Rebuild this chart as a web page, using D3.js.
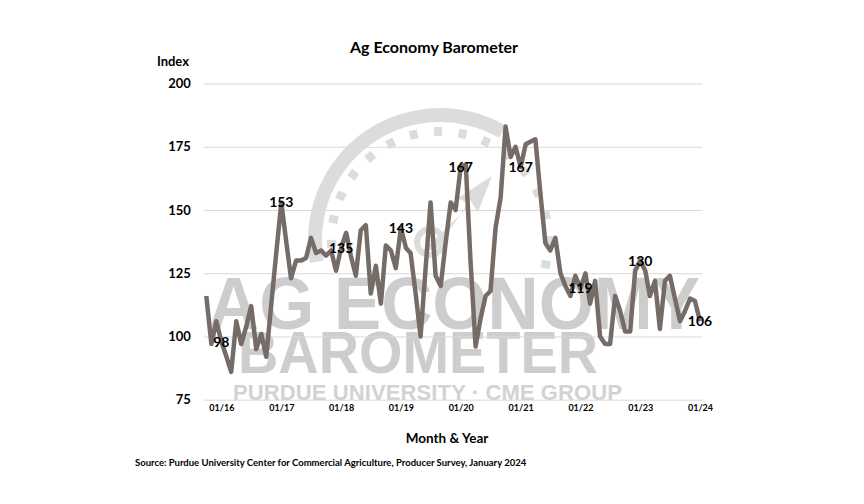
<!DOCTYPE html>
<html><head><meta charset="utf-8">
<script src="https://cdn.jsdelivr.net/npm/d3@7"></script>
<style>body{margin:0;background:#fff}svg{display:block}</style>
</head><body>
<svg id="c" width="864" height="504"></svg>
<script>
// ---- data ----
const startMonth = "2015-10"; // first observation (Oct 2015), monthly through Jan 2024
const values = [
  116, 97, 106,
  98, 92, 86, 106, 97, 104, 112, 95, 101, 92, 113, 133,
  153, 137, 123, 130, 130, 131, 139, 133, 134, 132, 134, 126,
  135, 141, 132, 124, 142, 144, 117, 128, 113, 136, 134, 127,
  143, 135, 133, 117, 100, 127, 153, 124, 120, 137, 153, 150,
  167, 168, 130, 96, 107, 116, 118, 143, 155, 183, 171, 175,
  167, 176, 177, 178, 157, 137, 134, 139, 125, 120, 116, 124,
  119, 125, 113, 122, 100, 97, 97, 116, 110, 102, 102, 126,
  130, 126, 116, 122, 103, 122, 124, 115, 106, 110, 115, 114,
  106
];
const yTicks = [75, 100, 125, 150, 175, 200];
const xTickYears = [2016, 2017, 2018, 2019, 2020, 2021, 2022, 2023, 2024];
const xTickLabels = ["01/16","01/17","01/18","01/19","01/20","01/21","01/22","01/23","01/24"];
const labelYears = [2016, 2017, 2018, 2019, 2020, 2021, 2022, 2023, 2024]; // January data labels

const [sy, sm] = startMonth.split("-").map(Number);
const data = values.map((v, i) => ({date: new Date(sy, sm - 1 + i, 1), value: v}));

const svg = d3.select("#c");
const x = d3.scaleTime()
  .domain([data[0].date, data[data.length - 1].date])
  .range([206.3, 700]);
const y = d3.scaleLinear().domain([75, 200]).range([399.7, 83.6]);

const gx0 = x(new Date(2015, 8, 16)), gx1 = x(new Date(2024, 0, 16));
const font = "Lato, 'Open Sans', sans-serif";

// ---- watermark (gauge + text) ----
const wm = svg.append("g");
const gc = [440, 240];
const arc = d3.arc();
wm.append("path")
  .attr("transform", `translate(${gc})`)
  .attr("d", arc({innerRadius: 118, outerRadius: 132, startAngle: -100 * Math.PI / 180, endAngle: 30 * Math.PI / 180}))
  .attr("fill", "#dcdcdc");
for (let a = -92; a <= 112; a += 13) {
  const r = a * Math.PI / 180;
  wm.append("rect")
    .attr("x", -4).attr("y", -113).attr("width", 8).attr("height", 9)
    .attr("transform", `translate(${gc}) rotate(${a})`)
    .attr("fill", "#dcdcdc");
}
wm.append("circle").attr("cx", 430).attr("cy", 242).attr("r", 13)
  .attr("fill", "none").attr("stroke", "#dcdcdc").attr("stroke-width", 6);
wm.append("path").attr("d", "M424,250 L470,205 L458,198 L492,176 L478,212 L470,200 L436,250 Z")
  .attr("fill", "#dcdcdc");

wm.append("text").text("AG ECONOMY")
  .attr("x", 208).attr("y", 329).attr("textLength", 492).attr("lengthAdjust", "spacingAndGlyphs")
  .attr("font-family", "'Liberation Sans', Arial, sans-serif").attr("font-weight", "bold")
  .attr("font-size", 74).attr("fill", "#cdcdcd");
wm.append("text").text("BAROMETER")
  .attr("x", 238).attr("y", 373).attr("textLength", 360).attr("lengthAdjust", "spacingAndGlyphs")
  .attr("font-family", "'Liberation Sans', Arial, sans-serif").attr("font-weight", "bold")
  .attr("font-size", 60).attr("fill", "#cdcdcd");
wm.append("text").text("PURDUE UNIVERSITY  ·  CME GROUP")
  .attr("x", 233).attr("y", 400).attr("textLength", 389).attr("lengthAdjust", "spacing")
  .attr("font-family", "'Liberation Sans', Arial, sans-serif").attr("font-weight", "bold")
  .attr("font-size", 22).attr("fill", "#d2d2d2");

// ---- gridlines + y axis ----
const yAxis = d3.axisLeft(y).tickValues(yTicks).tickSize(-(gx1 - gx0)).tickPadding(13);
const ga = svg.append("g").attr("transform", `translate(${gx0},0)`).call(yAxis);
ga.select(".domain").remove();
ga.selectAll(".tick line").attr("stroke", "#d9d9d9").attr("stroke-width", 1);
ga.selectAll(".tick text").attr("font-family", font).attr("font-weight", "bold")
  .attr("font-size", 13).attr("fill", "#000");

// ---- x axis labels ----
const xAxis = d3.axisBottom(x)
  .tickValues(xTickYears.map(yr => new Date(yr, 0, 1)))
  .tickFormat((d, i) => xTickLabels[i]).tickSize(0).tickPadding(0);
const gxa = svg.append("g").attr("transform", `translate(0,408)`).call(xAxis);
gxa.select(".domain").remove();
gxa.selectAll(".tick text").attr("font-family", font).attr("font-weight", "bold")
  .attr("font-size", 9).attr("fill", "#000").attr("dy", "0.32em");

// ---- line ----
const line = d3.line().x(d => x(d.date)).y(d => y(d.value));
svg.append("path").datum(data).attr("d", line)
  .attr("fill", "none").attr("stroke", "#766c67").attr("stroke-width", 4.5)
  .attr("stroke-linejoin", "round");

// ---- data labels (January values) ----
const lbl = data.filter(d => d.date.getMonth() === 0 && labelYears.includes(d.date.getFullYear()));
svg.append("g").selectAll("text").data(lbl).join("text")
  .attr("x", d => x(d.date)).attr("y", d => y(d.value))
  .attr("dy", "0.36em").attr("text-anchor", "middle")
  .attr("font-family", font).attr("font-weight", "bold").attr("font-size", 14)
  .attr("fill", "#000").text(d => d.value);

// ---- titles ----
svg.append("text").text("Ag Economy Barometer").attr("x", 434).attr("y", 53)
  .attr("text-anchor", "middle").attr("font-family", font).attr("font-weight", "bold")
  .attr("font-size", 16).attr("fill", "#000");
svg.append("text").text("Index").attr("x", 189).attr("y", 66)
  .attr("text-anchor", "end").attr("font-family", font).attr("font-weight", "bold")
  .attr("font-size", 13).attr("fill", "#000");
svg.append("text").text("Month & Year").attr("x", 447).attr("y", 443)
  .attr("text-anchor", "middle").attr("font-family", font).attr("font-weight", "bold")
  .attr("font-size", 13.5).attr("fill", "#000");
svg.append("text").text("Source: Purdue University Center for Commercial Agriculture, Producer Survey, January 2024")
  .attr("x", 135).attr("y", 466).attr("font-family", font).attr("font-weight", "bold")
  .attr("font-size", 9.5).attr("fill", "#000");
</script>
</body></html>
